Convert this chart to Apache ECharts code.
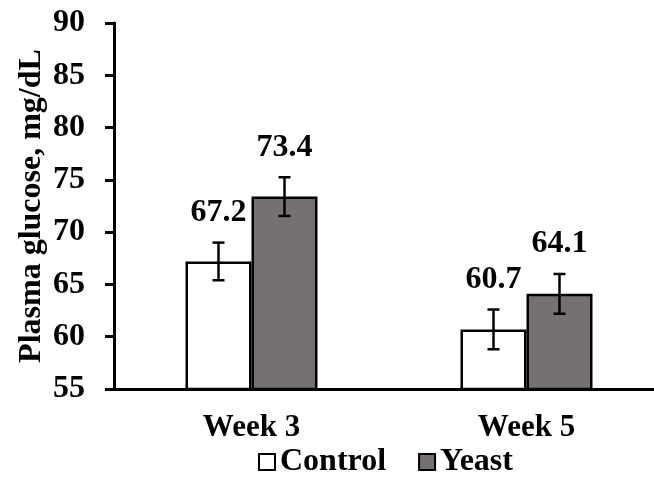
<!DOCTYPE html>
<html>
<head>
<meta charset="utf-8">
<script src="https://cdn.jsdelivr.net/npm/echarts@6/dist/echarts.min.js"></script>
<style>html,body{margin:0;padding:0;background:#fff}#c{width:654px;height:480px}</style>
</head>
<body>
<div id="c"></div>
<script>
var categories = ['Week 3', 'Week 5'];
var seriesNames = ['Control', 'Yeast'];
var controlValues = [67.2, 60.7];
var yeastValues = [73.4, 64.1];
var controlErr = [1.8, 1.9];
var yeastErr = [1.85, 1.9];
var yTicks = {min: 55, max: 90, interval: 5};

var FONT = '"Liberation Serif", "Times New Roman", serif';
var BAR_W = 66;
var chart = echarts.init(document.getElementById('c'));

function errSeries(name, values, errs, side) {
  var data = values.map(function (v, i) { return [i, v, errs[i]]; });
  return {
    type: 'custom',
    name: name + ' err',
    z: 10,
    silent: true,
    data: data,
    encode: {x: 0, y: 1},
    renderItem: function (params, api) {
      var i = api.value(0), v = api.value(1), e = api.value(2);
      var c = api.coord([i, v]);
      var x = c[0] + side * BAR_W / 2;
      var top = api.coord([i, v + e])[1];
      var bot = api.coord([i, v - e])[1];
      var cap = 6;
      var st = {stroke: '#000', lineWidth: 2.5};
      return {
        type: 'group',
        children: [
          {type: 'line', shape: {x1: x, y1: top, x2: x, y2: bot}, style: st},
          {type: 'line', shape: {x1: x - cap, y1: top, x2: x + cap, y2: top}, style: st},
          {type: 'line', shape: {x1: x - cap, y1: bot, x2: x + cap, y2: bot}, style: st},
          {type: 'text', x: x, y: top - 14, style: {
            text: v.toFixed(1), fontFamily: FONT, fontWeight: 'bold', fontSize: 32,
            fill: '#000', align: 'center', verticalAlign: 'bottom'}}
        ]
      };
    }
  };
}

chart.setOption({
  animation: false,
  backgroundColor: '#fff',
  grid: {left: 114, right: -10, top: 23, bottom: 91, containLabel: false, outerBoundsMode: 'none'},
  legend: {
    left: 258, top: 446, padding: 0,
    itemWidth: 16, itemHeight: 16, itemGap: 32,
    icon: 'rect',
    data: seriesNames,
    textStyle: {fontFamily: FONT, fontWeight: 'bold', fontSize: 32, color: '#000'}
  },
  xAxis: {
    type: 'category',
    data: categories,
    axisLine: {lineStyle: {color: '#000', width: 3}},
    axisTick: {show: false},
    axisLabel: {fontFamily: FONT, fontWeight: 'bold', fontSize: 31, color: '#000', margin: 23}
  },
  yAxis: {
    type: 'value',
    min: yTicks.min, max: yTicks.max, interval: yTicks.interval,
    name: 'Plasma glucose, mg/dL',
    nameLocation: 'middle',
    nameGap: 66,
    nameMoveOverlap: false,
    nameTextStyle: {fontFamily: FONT, fontWeight: 'bold', fontSize: 32, color: '#000'},
    splitLine: {show: false},
    axisLine: {show: true, lineStyle: {color: '#000', width: 3}},
    axisTick: {show: true, length: 9, lineStyle: {color: '#000', width: 3}},
    axisLabel: {fontFamily: FONT, fontWeight: 'bold', fontSize: 32, color: '#000', margin: 29}
  },
  series: [
    {type: 'bar', name: seriesNames[0], data: controlValues, barWidth: BAR_W, barGap: '0%',
     itemStyle: {color: '#ffffff', borderColor: '#000', borderWidth: 2.5}},
    {type: 'bar', name: seriesNames[1], data: yeastValues, barWidth: BAR_W, barGap: '0%',
     itemStyle: {color: '#767171', borderColor: '#000', borderWidth: 2.5}},
    errSeries(seriesNames[0], controlValues, controlErr, -1),
    errSeries(seriesNames[1], yeastValues, yeastErr, 1)
  ]
});
</script>
</body>
</html>
